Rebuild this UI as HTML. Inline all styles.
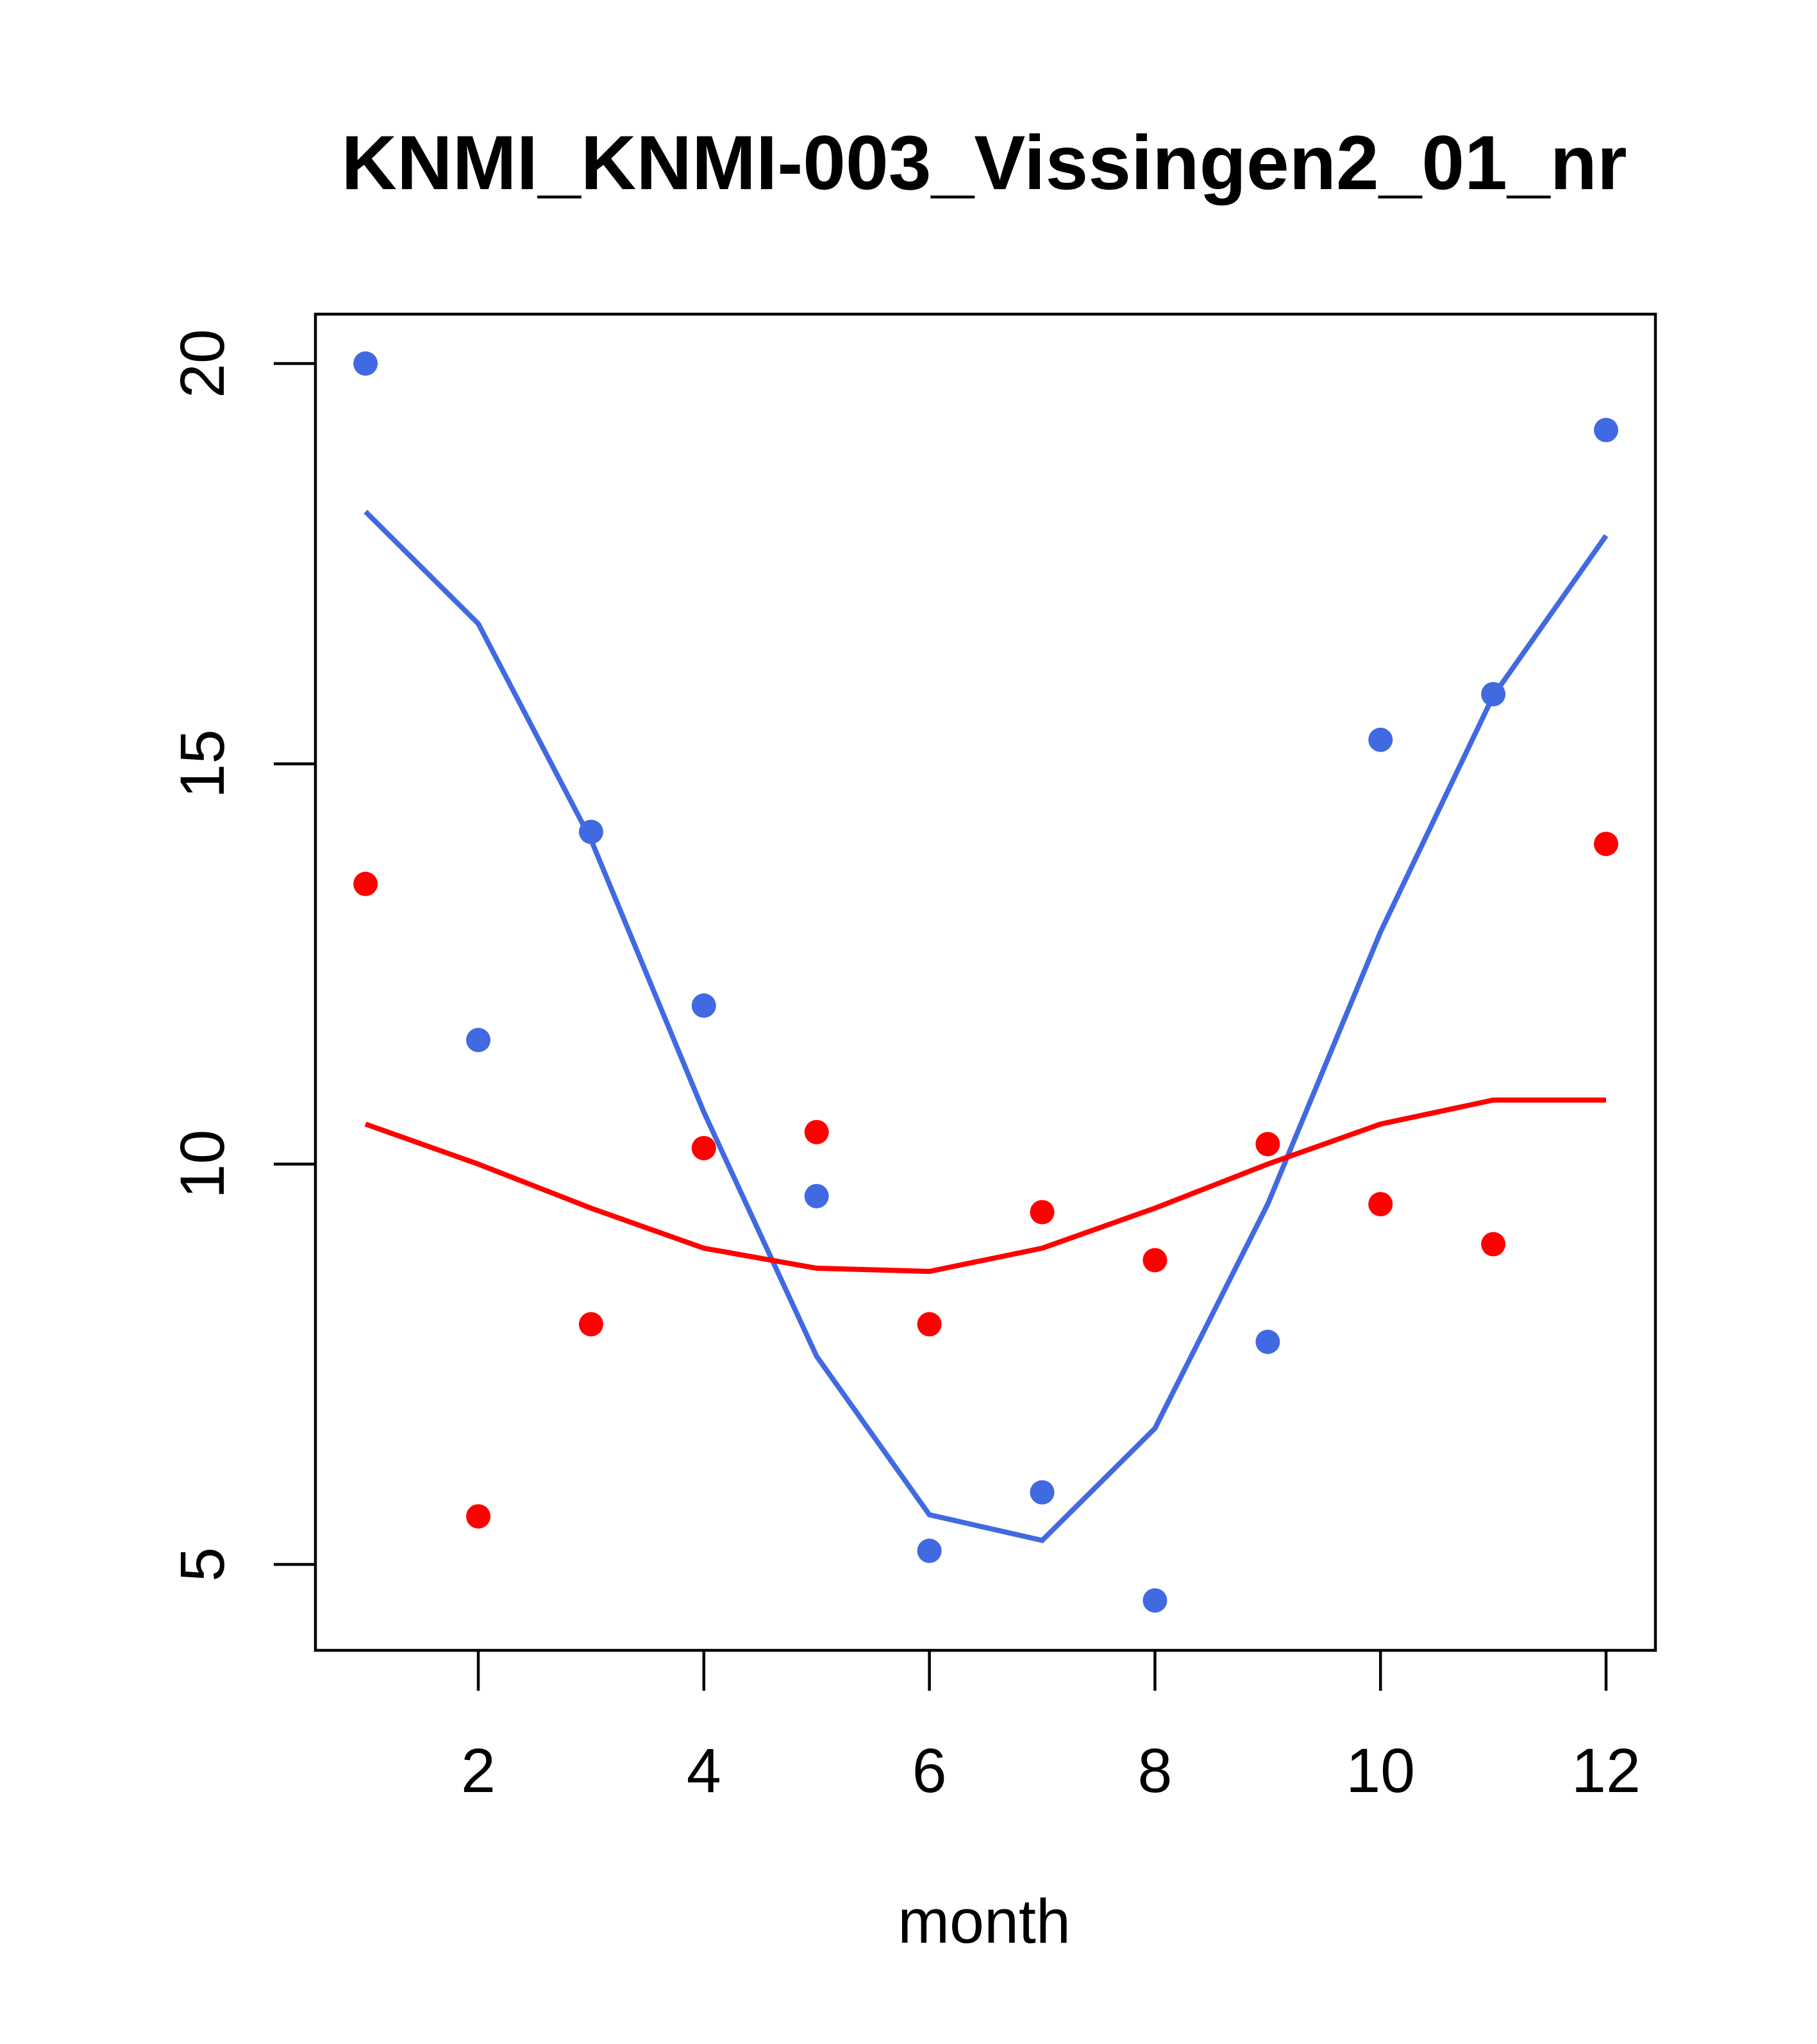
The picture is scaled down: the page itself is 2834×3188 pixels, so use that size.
<!DOCTYPE html>
<html><head><meta charset="utf-8"><style>html,body{margin:0;padding:0;background:#fff}svg{display:block}text{font-family:"Liberation Sans",sans-serif}</style></head>
<body>
<svg id="chart" width="2834" height="3188" viewBox="0 0 2834 3188" xmlns="http://www.w3.org/2000/svg">
<rect width="2834" height="3188" fill="#fff"/>
<text x="1535" y="295" font-size="120" font-weight="bold" text-anchor="middle">KNMI_KNMI-003_Vissingen2_01_nr</text>
<text x="1535" y="3030" font-size="97" text-anchor="middle">month</text>
<rect x="492" y="490" width="2090" height="2084" fill="none" stroke="#000" stroke-width="4.5"/>
<g id="axes"></g>
<g id="marks"></g>
</svg>
<script>
const months = [1,2,3,4,5,6,7,8,9,10,11,12];
const bluePoints = [20.0,11.55,14.15,11.98,9.6,5.17,5.9,4.55,7.78,15.3,15.87,19.17];
const blueLine = [18.15,16.75,14.05,10.65,7.6,5.62,5.3,6.7,9.5,12.9,15.85,17.85];
const redPoints = [13.5,5.6,8.0,10.2,10.4,8.0,9.4,8.8,10.25,9.5,9.0,14.0];
const redLine = [10.5,10.0,9.45,8.95,8.7,8.66,8.95,9.45,10.0,10.5,10.8,10.8];
const xTicks = [2,4,6,8,10,12];
const yTicks = [5,10,15,20];

const NS = "http://www.w3.org/2000/svg";
function xs(m){ return 746 + (m-2)*(2505-746)/10; }
function ys(v){ return 2440 - (v-5)*(2440-567)/15; }
function mk(tag, attrs, parent){ const e=document.createElementNS(NS,tag); for(const k in attrs) e.setAttribute(k,attrs[k]); parent.appendChild(e); return e; }
const axes=document.getElementById('axes'), marks=document.getElementById('marks');

xTicks.forEach(t=>{
  const l=mk('line',{x1:xs(t),x2:xs(t),y1:2574,y2:2637,stroke:'#000','stroke-width':4.5},axes);
  
  
  const tx=mk('text',{x:xs(t),y:2795,'font-size':97,'text-anchor':'middle'},axes);
  tx.textContent=t;
  
  
});
yTicks.forEach(t=>{
  const l=mk('line',{x1:427,x2:492,y1:ys(t),y2:ys(t),stroke:'#000','stroke-width':4.5},axes);
  
  
  const tx=mk('text',{x:0,y:0,'font-size':97,'text-anchor':'middle',transform:`translate(349,${ys(t)}) rotate(-90)`},axes);
  tx.textContent=t;
  
  
});

function line(vals,color,name){
  const p=mk('polyline',{points:months.map((m,i)=>xs(m)+','+ys(vals[i])).join(' '),fill:'none',stroke:color,'stroke-width':8},marks);
  
  
}
function pts(vals,color,name){
  months.forEach((m,i)=>{
    const c=mk('circle',{cx:xs(m),cy:ys(vals[i]),r:19,fill:color},marks);
    
    
  });
}
line(blueLine,'#4169E1','blue-fit-line');
line(redLine,'#FF0000','red-fit-line');
pts(bluePoints,'#4169E1','blue-point');
pts(redPoints,'#FF0000','red-point');
</script>
</body></html>
